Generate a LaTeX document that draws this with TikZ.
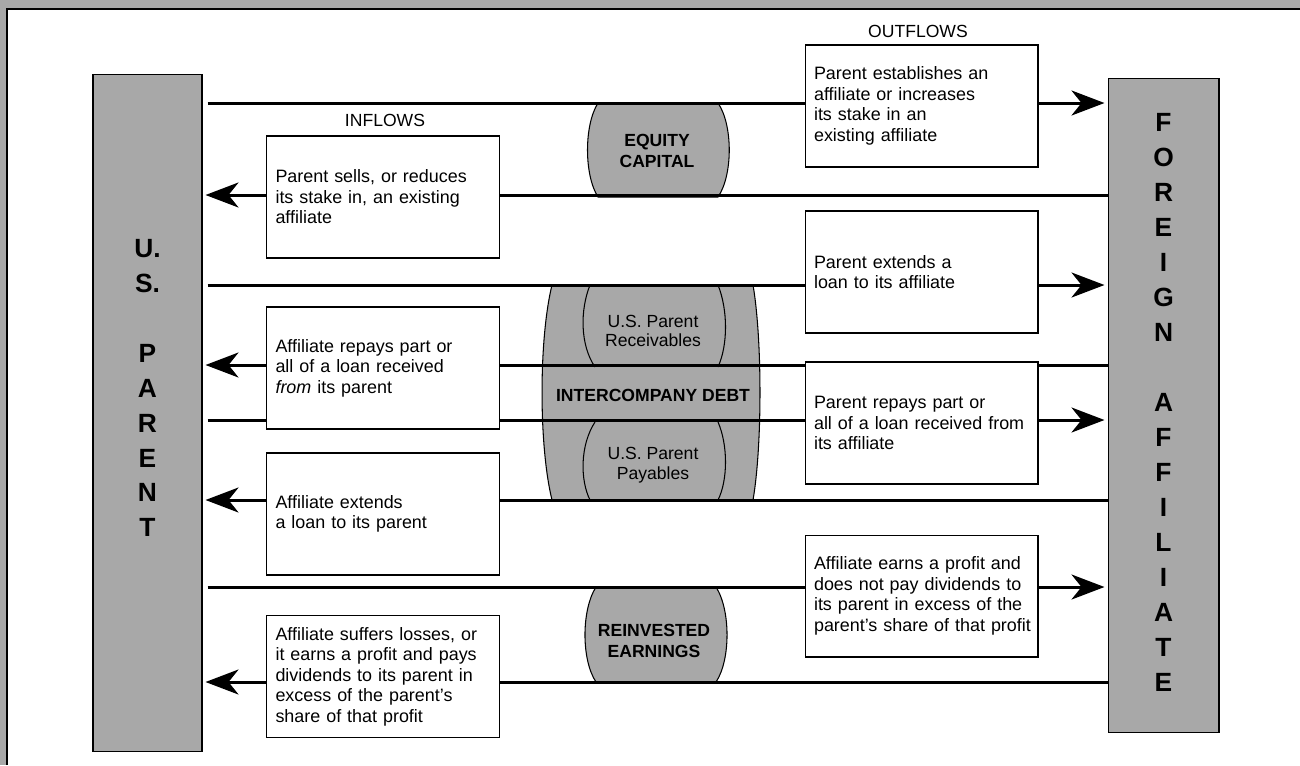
\documentclass[tikz,border=0pt]{standalone}
\usepackage{fontspec}
\setmainfont{Liberation Sans}
\usetikzlibrary{arrows.meta,positioning}
\definecolor{stipple}{gray}{0.66}

\begin{document}
\begin{tikzpicture}[x=0.02cm, y=-0.02cm,
    bar/.style={draw, fill=stipple, line width=0.6pt, inner sep=0pt},
    barletters/.style={align=center, font=\bfseries\fontsize{15}{19.9}\selectfont},
    flowline/.style={line width=1.7pt, -{Stealth[length=0.66cm, width=0.5cm, inset=0.2cm]}, shorten >=0.06cm},
    infobox/.style={draw, fill=white, line width=0.6pt, text width=4.3cm, inner xsep=0.18cm,
        minimum height=2.44cm, align=left, font=\fontsize{10.2}{11.7}\selectfont},
    barrel/.style={draw, fill=stipple, line width=0.6pt},
    barreltext/.style={align=center, font=\bfseries\fontsize{10}{11.5}\selectfont},
    plaintext/.style={align=center, font=\fontsize{10}{11.3}\selectfont}
]
\useasboundingbox (0,0) rectangle (1300,765);

% frame
\fill[stipple] (0,0) rectangle (1300,9);
\fill[stipple] (0,0) rectangle (7,765);
\draw[line width=0.8pt] (7,765) -- (7,9) -- (1300,9);

% the two bars
\node[bar, minimum width=2.18cm, minimum height=13.56cm] (usp) at (147.5,413) {};
\node[barletters] (usplbl) at (147.5,388) {U.\\S.\\ \mbox{}\\P\\A\\R\\E\\N\\T};
\node[bar, minimum width=2.22cm, minimum height=13.1cm] (fa) at (1163.5,405.5) {};
\node[barletters] (falbl) at (1163.5,402.5) {F\\O\\R\\E\\I\\G\\N\\ \mbox{}\\A\\F\\F\\I\\L\\I\\A\\T\\E};

% barrels
\draw[barrel] (598,103) .. controls (584,125) and (584,175) .. (598,197)
    -- (718,197) .. controls (733,175) and (733,125) .. (718,103) -- cycle;
\draw[barrel] (552,285) .. controls (538.7,339) and (538.7,446) .. (552,500)
    -- (753,500) .. controls (762.3,446) and (762.3,339) .. (753,285) -- cycle;
\draw[line width=0.6pt] (590,285) .. controls (580,310) and (580,345) .. (595,367);
\draw[line width=0.6pt] (718,285) .. controls (728,310) and (728,345) .. (718,367);
\draw[line width=0.6pt] (595,422) .. controls (580,445) and (580,480) .. (590,500);
\draw[line width=0.6pt] (718,422) .. controls (728,445) and (728,480) .. (718,500);
\draw[barrel] (596,587) .. controls (581.3,610) and (581.3,660) .. (596,682)
    -- (716,682) .. controls (730.7,660) and (730.7,610) .. (716,587) -- cycle;

\node[barreltext] (eqcap) at (657,151) {EQUITY\\CAPITAL};
\node[plaintext] (recv) at (653,331) {U.S. Parent\\Receivables};
\node[barreltext] (icdebt) at (653,395) {INTERCOMPANY DEBT};
\node[plaintext] (payb) at (653,465) {U.S. Parent\\Payables};
\node[barreltext] (reinv) at (654,641) {REINVESTED\\EARNINGS};

% flow lines
\foreach \n/\y in {1/103, 2/285, 3/420, 4/587}
    \coordinate (out\n) at (0,\y);
\foreach \n/\y in {1/195, 2/365, 3/500, 4/682}
    \coordinate (in\n) at (0,\y);
\foreach \n in {1,...,4} {
    \draw[flowline, shorten <=0.1cm] (usp.east |- out\n) -- (fa.west |- out\n);
    \draw[flowline] (fa.west |- in\n) -- (usp.east |- in\n);
}

% outflow boxes
\node[infobox] (ob1) at (921.5,106) {Parent establishes an\\affiliate or increases\\its stake in an\\existing affiliate};
\node[infobox] (ob2) at (921.5,272) {Parent extends a\\loan to its affiliate};
\node[infobox] (ob3) at (921.5,423) {Parent repays part or\\\mbox{all of a loan received from}\\its affiliate};
\node[infobox] (ob4) at (921.5,596) {\mbox{Affiliate earns a profit and}\\\mbox{does not pay dividends to}\\\mbox{its parent in excess of the}\\\mbox{parent's share of that profit}};

% inflow boxes
\node[infobox] (ib1) at (383,197) {Parent sells, or reduces\\its stake in, an existing\\affiliate};
\node[infobox] (ib2) at (383,368) {Affiliate repays part or\\all of a loan received\\\textit{from} its parent};
\node[infobox] (ib3) at (383,514) {Affiliate extends\\a loan to its parent};
\node[infobox] (ib4) at (383,676.5) {\mbox{Affiliate suffers losses, or}\\\mbox{it earns a profit and pays}\\dividends to its parent in\\excess of the parent's\\share of that profit};

\node[plaintext] (outlbl) at (918,31) {OUTFLOWS};
\node[plaintext] (inlbl) at (385,120) {INFLOWS};

\end{tikzpicture}
\end{document}
